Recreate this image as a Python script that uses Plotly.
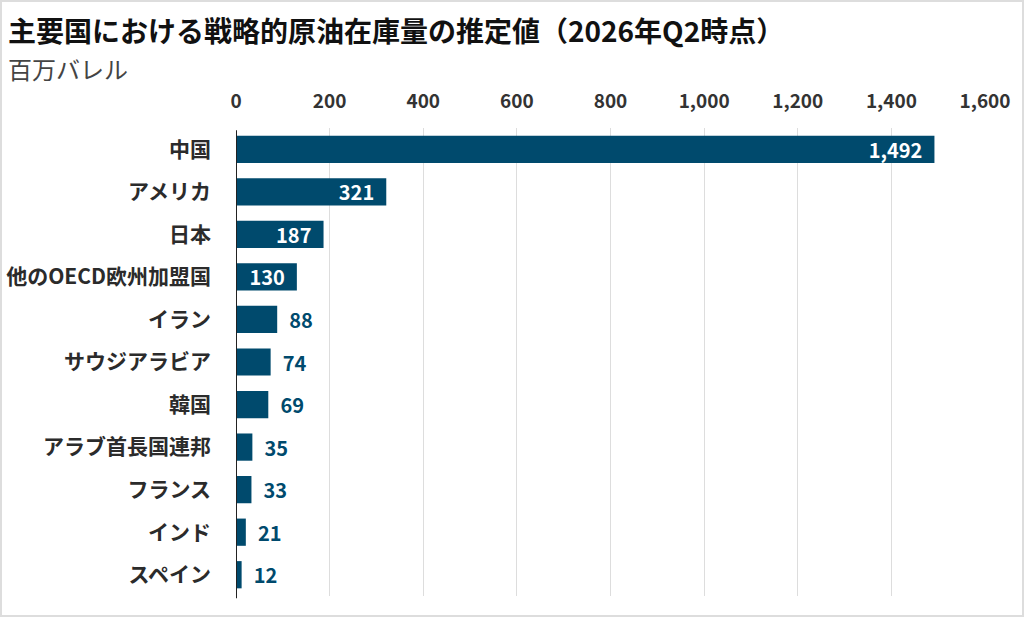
import plotly.graph_objects as go

# data (million barrels)
countries = ["中国", "アメリカ", "日本", "他のOECD欧州加盟国", "イラン", "サウジアラビア",
             "韓国", "アラブ首長国連邦", "フランス", "インド", "スペイン"]
reserves = [1492, 321, 187, 130, 88, 74, 69, 35, 33, 21, 12]
tick_vals = [0, 200, 400, 600, 800, 1000, 1200, 1400, 1600]

title = "主要国における戦略的原油在庫量の推定値（2026年Q2時点）"
subtitle = "百万バレル"

bar_color = "#004a6d"
font = "Noto Sans CJK JP"

W, H = 1024, 617
ml, mr, mt, mb = 236, 39, 128, 21
pw, ph = W - ml - mr, H - mt - mb

NB = "\u00a0"
positions = ["inside" if v > 100 else "outside" for v in reserves]
labels = [f"{v:,}" + NB * 2 if p == "inside" else NB * 2 + f"{v:,}"
          for v, p in zip(reserves, positions)]

fig = go.Figure(go.Bar(
    x=reserves,
    y=countries,
    orientation="h",
    marker=dict(color=bar_color, line=dict(width=0)),
    text=labels,
    textposition=positions,
    insidetextanchor="end",
    insidetextfont=dict(family=font, size=20, color="white", weight="bold"),
    outsidetextfont=dict(family=font, size=20, color=bar_color, weight="bold"),
    constraintext="none",
    cliponaxis=False,
))

fig.update_layout(
    width=W, height=H,
    margin=dict(l=ml, r=mr, t=mt, b=mb, autoexpand=False),
    paper_bgcolor="white",
    plot_bgcolor="white",
    bargap=0.36,
    showlegend=False,
    font=dict(family=font, color="#333333"),
    xaxis=dict(
        side="top",
        range=[0, 1600],
        tickvals=tick_vals,
        tickformat=",",
        tickfont=dict(family=font, size=19, color="#333333", weight="bold"),
        ticklabelstandoff=15,
        showgrid=True,
        gridcolor="#dddddd",
        gridwidth=1,
        zeroline=False,
        showline=False,
        ticks="",
        automargin=False,
        fixedrange=True,
    ),
    yaxis=dict(
        autorange="reversed",
        tickfont=dict(family=font, size=21, color="#2b2b2b", weight="bold"),
        ticklabelstandoff=24,
        showgrid=False,
        ticks="",
        showline=False,
        automargin=False,
    ),
    annotations=[
        dict(text=title, xref="paper", yref="paper",
             x=(6 - ml) / pw, y=(H - 30 - mb) / ph, xanchor="left", yanchor="middle",
             showarrow=False, font=dict(family=font, size=28, color="#111111", weight="bold")),
        dict(text=subtitle, xref="paper", yref="paper",
             x=(6 - ml) / pw, y=(H - 68 - mb) / ph, xanchor="left", yanchor="middle",
             showarrow=False, font=dict(family=font, size=24, color="#444444")),
    ],
    shapes=[
        # zero baseline
        dict(type="line", xref="x", yref="paper", x0=0, x1=0, y0=-0.005, y1=0.995,
             line=dict(color="#222222", width=2)),
        # outer frame
        dict(type="rect", xref="paper", yref="paper",
             x0=(1 - ml) / pw, x1=(W - 1 - ml) / pw,
             y0=(1 - mb) / ph, y1=(H - 1 - mb) / ph,
             line=dict(color="#dddddd", width=2)),
    ],
)

# drop the default page margin so the 1024x617 figure fills the window
page_css = ("document.documentElement.style.margin='0';"
            "document.body.style.margin='0';document.body.style.padding='0';"
            "document.body.style.overflow='hidden';")
fig.write_html("out.html", config={"displayModeBar": False}, post_script=page_css)
